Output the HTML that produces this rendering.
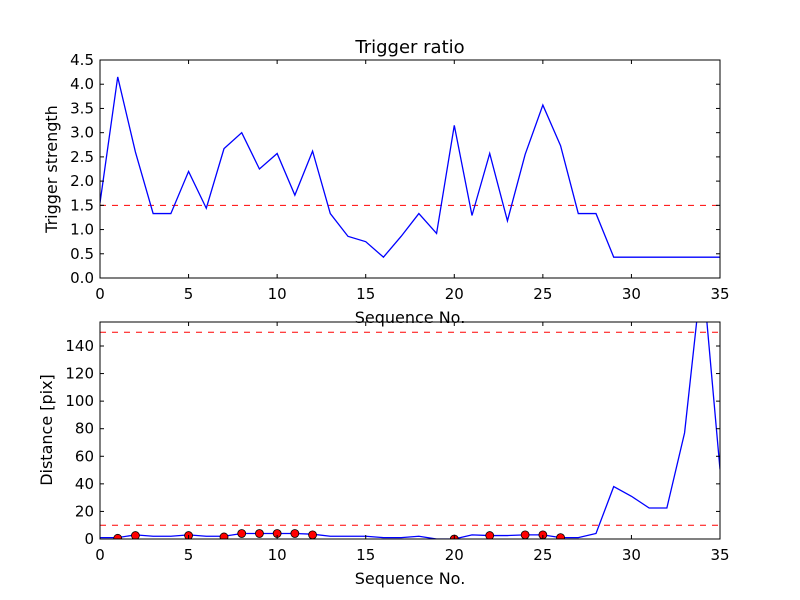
<!DOCTYPE html>
<html><head><meta charset="utf-8"><style>
body{margin:0;background:#fff;}
svg{display:block;font-family:"DejaVu Sans","Liberation Sans",sans-serif;}
</style></head><body>
<svg id="c" width="800" height="600" viewBox="0 0 800 600">
<rect width="800" height="600" fill="#fff"/>
</svg>
<script>
const seq = [0,1,2,3,4,5,6,7,8,9,10,11,12,13,14,15,16,17,18,19,20,21,22,23,24,25,26,27,28,29,30,31,32,33,34,35];
const strength = [1.55,4.15,2.6,1.33,1.33,2.2,1.44,2.67,3.0,2.25,2.57,1.71,2.62,1.33,0.86,0.75,0.43,0.86,1.33,0.92,3.15,1.29,2.57,1.18,2.55,3.57,2.73,1.33,1.33,0.43,0.43,0.43,0.43,0.43,0.43,0.43];
const strengthThreshold = 1.5;
const distance = [1,1,3,2,2,3,2,2,4,4,4,4,3.5,2,2,2,1,1,2,0,0,3,2.5,2.5,3,3,1,1,4,38,31,22.5,22.5,77,195,50.5];
const markIdx = [1,2,5,7,8,9,10,11,12,20,22,24,25,26];
const markVal = [0.5,2.5,2.5,1.5,4,4,4,4,3,0,2.5,3,3,1];
const distThresholds = [10,150];
const topTicksX = [0,5,10,15,20,25,30,35];
const topTicksY = ["0.0","0.5","1.0","1.5","2.0","2.5","3.0","3.5","4.0","4.5"];
const botTicksY = [0,20,40,60,80,100,120,140];

const svg = document.getElementById('c');
const NS = 'http://www.w3.org/2000/svg';
function mk(tag, attrs, parent){const e=document.createElementNS(NS,tag);for(const k in attrs)e.setAttribute(k,attrs[k]);(parent||svg).appendChild(e);return e;}
const X0=100,X1=720;
const xs = v => X0 + (v/35)*(X1-X0);
const T0=60,T1=278; const ysTop = v => T1 - v/4.5*(T1-T0);
const B0=322,B1=539; const BMAX=157.4; const ysBot = v => B1 - v/BMAX*(B1-B0);

function axes(top,bot,name){
  const g=mk('g',{});
  
  
  const cp=mk('clipPath',{id:name+'-clip'},g);
  mk('rect',{x:X0,y:top,width:X1-X0,height:bot-top},cp);
  return g;
}
function frame(g,top,bot){
  mk('rect',{x:X0,y:top,width:X1-X0,height:bot-top,fill:'none',stroke:'#000','stroke-width':1},g);
}
function xticks(g,top,bot,ly){
  topTicksX.forEach(t=>{
    const x=xs(t);
    mk('line',{x1:x,x2:x,y1:bot,y2:bot-4,stroke:'#000'},g);
    mk('line',{x1:x,x2:x,y1:top,y2:top+4,stroke:'#000'},g);
    const tx=mk('text',{x:x,y:ly,'text-anchor':'middle','font-size':15},g);
    tx.textContent=t;
    
    
  });
}
function yticks(g,vals,labels,ys){
  vals.forEach((v,i)=>{
    const y=ys(v);
    mk('line',{x1:X0,x2:X0+4,y1:y,y2:y,stroke:'#000'},g);
    mk('line',{x1:X1,x2:X1-4,y1:y,y2:y,stroke:'#000'},g);
    const tx=mk('text',{x:X0-6,y:y+5,'text-anchor':'end','font-size':15},g);
    tx.textContent=labels[i];
    
    
  });
}

// top plot
const gt=axes(T0,T1,'trigger-strength-plot');
const thr=mk('line',{x1:X0,x2:X1,y1:ysTop(strengthThreshold),y2:ysTop(strengthThreshold),stroke:'#f00','stroke-dasharray':'6,6'},gt);


const l1=mk('polyline',{points:seq.map((s,i)=>xs(s)+','+ysTop(strength[i])).join(' '),fill:'none',stroke:'#00f','stroke-width':1.3,'clip-path':'url(#trigger-strength-plot-clip)'},gt);


frame(gt,T0,T1);
xticks(gt,T0,T1,299);
yticks(gt,topTicksY.map(Number),topTicksY,ysTop);
let t=mk('text',{x:410,y:53,'text-anchor':'middle','font-size':18},gt);t.textContent='Trigger ratio';


t=mk('text',{x:410,y:323,'text-anchor':'middle','font-size':16},gt);t.textContent='Sequence No.';


t=mk('text',{x:0,y:0,'text-anchor':'middle','font-size':16,transform:'translate(57,169) rotate(-90)'},gt);t.textContent='Trigger strength';



// bottom plot
const gb=axes(B0,B1,'distance-plot');
distThresholds.forEach(v=>{
  const l=mk('line',{x1:X0,x2:X1,y1:ysBot(v),y2:ysBot(v),stroke:'#f00','stroke-dasharray':'6,6'},gb);
  
  
});
const l2=mk('polyline',{points:seq.map((s,i)=>xs(s)+','+ysBot(distance[i])).join(' '),fill:'none',stroke:'#00f','stroke-width':1.3,'clip-path':'url(#distance-plot-clip)'},gb);


markIdx.forEach((s,i)=>{
  const c=mk('circle',{cx:xs(s),cy:ysBot(markVal[i]),r:4,fill:'#f00',stroke:'#000','stroke-width':0.8,'clip-path':'url(#distance-plot-clip)'},gb);
  
  
});
frame(gb,B0,B1);
xticks(gb,B0,B1,560);
yticks(gb,botTicksY,botTicksY.map(String),ysBot);
t=mk('text',{x:410,y:584,'text-anchor':'middle','font-size':16},gb);t.textContent='Sequence No.';


t=mk('text',{x:0,y:0,'text-anchor':'middle','font-size':16,transform:'translate(52,430) rotate(-90)'},gb);t.textContent='Distance [pix]';


</script>
</body></html>
